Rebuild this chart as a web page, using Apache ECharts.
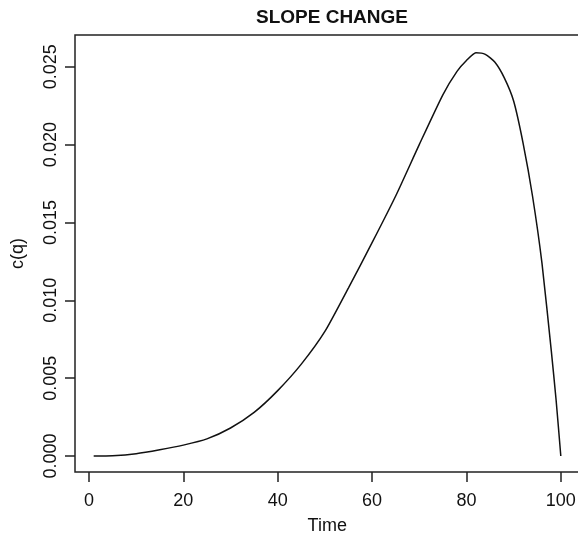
<!DOCTYPE html>
<html>
<head>
<meta charset="utf-8">
<script src="https://cdn.jsdelivr.net/npm/echarts@6/dist/echarts.min.js"></script>
<style>
  html, body { margin: 0; padding: 0; background: #fff; }
  #chart { width: 578px; height: 536px; }
</style>
</head>
<body>
<div id="chart"></div>
<script>
// values
const time_values = [1, 5, 10, 15, 20, 25, 30, 35, 40, 45, 50, 55, 60, 65, 70, 75, 78, 80, 82, 84, 86, 88, 90, 92, 94, 96, 98, 99, 100];
const cq_values = [0, 0.00002, 0.00015, 0.0004, 0.0007, 0.0011, 0.0018, 0.0028, 0.0042, 0.0059, 0.0080, 0.0108, 0.0137, 0.0167, 0.0200, 0.0232, 0.0247, 0.0254, 0.0259, 0.0258, 0.0253, 0.0243, 0.0228, 0.0201, 0.0167, 0.0124, 0.0067, 0.0036, 0];
const x_ticks = [0, 20, 40, 60, 80, 100];
const y_ticks = [0, 0.005, 0.010, 0.015, 0.020, 0.025];

const font = 'Liberation Sans, Arial, sans-serif';

function build_points(xs, ys) {
    return xs.map(function (x, i) {
        return [x, ys[i]];
    });
}

let chart = echarts.init(document.getElementById('chart'), null, {renderer: 'canvas'});
chart.setOption({
    animation: false,
    title: {
        text: 'SLOPE CHANGE',
        left: 327, top: 3, textAlign: 'center',
        textStyle: {fontFamily: font, fontSize: 19, fontWeight: 'bold', color: '#111'}
    },
    grid: {
        left: 75, top: 35, width: 504.5, height: 437,
        outerBoundsMode: 'none', containLabel: false,
        show: true, borderColor: '#222', borderWidth: 1.5, backgroundColor: 'transparent'
    },
    xAxis: {
        type: 'value', min: -2.96, max: 103.96,
        name: 'Time', nameLocation: 'middle', nameGap: 45,
        nameTextStyle: {fontFamily: font, fontSize: 18, color: '#111'},
        axisLine: {show: false, onZero: false},
        splitLine: {show: false},
        axisTick: {show: true, inside: false, length: 10, customValues: x_ticks, lineStyle: {color: '#222', width: 1.5}},
        axisLabel: {customValues: x_ticks, margin: 20, fontFamily: font, fontSize: 18, color: '#111',
            formatter: v => String(v)}
    },
    yAxis: {
        type: 'value', min: -0.001027, max: 0.02704,
        name: 'c(q)', nameLocation: 'middle', nameGap: 48, nameRotate: 90,
        nameTextStyle: {fontFamily: font, fontSize: 18, color: '#111'},
        axisLine: {show: false, onZero: false},
        splitLine: {show: false},
        axisTick: {show: true, inside: false, length: 10, customValues: y_ticks, lineStyle: {color: '#222', width: 1.5}},
        axisLabel: {customValues: y_ticks, rotate: 90, margin: 15, fontFamily: font, fontSize: 18, color: '#111',
            formatter: v => v.toFixed(3)}
    },
    series: [{
        type: 'line',
        data: build_points(time_values, cq_values),
        showSymbol: false,
        smooth: 0.2,
        lineStyle: {color: '#111', width: 1.5}
    }]
});
</script>
</body>
</html>
